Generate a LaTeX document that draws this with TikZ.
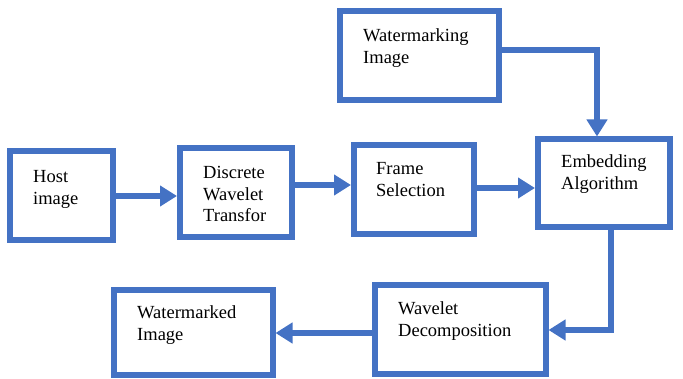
\documentclass[tikz,border=0pt]{standalone}
\usepackage{fontspec}
\setmainfont{Liberation Serif}
\usetikzlibrary{arrows.meta}
\definecolor{boxblue}{HTML}{4472C4}
\newcommand\mylines[1]{\begin{tabular}[t]{@{}l@{}}#1\end{tabular}}
\begin{document}
\begin{tikzpicture}[x=1pt,y=-1pt,
  box/.style={draw=boxblue, line width=6pt, inner sep=0pt, fill=white},
  lbl/.style={anchor=base west, inner sep=0pt, font=\fontsize{18.5}{21.5}\selectfont},
  arr/.style={draw=boxblue, line width=6pt, line join=miter, -{Triangle[length=17pt,width=20pt]}}]
\useasboundingbox (0,0) rectangle (683,379);
% boxes
\node[box, minimum width=159pt, minimum height=89pt] (wm) at (419.5,55.5) {};
\node[box, minimum width=103pt, minimum height=89pt] (host) at (61.5,195.5) {};
\node[box, minimum width=112pt, minimum height=89pt] (dwt) at (236,192.5) {};
\node[box, minimum width=120pt, minimum height=89pt] (frame) at (414,189.5) {};
\node[box, minimum width=132pt, minimum height=87.5pt] (embed) at (604,183.25) {};
\node[box, minimum width=170.5pt, minimum height=88.5pt] (wd) at (460.25,329.75) {};
\node[box, minimum width=158.5pt, minimum height=85pt] (wmd) at (193.25,332.5) {};
% labels
\node[lbl] (wmT) at (363,42) {\mylines{Watermarking\\Image}};
\node[lbl] (hostT) at (33,183) {\mylines{Host\\image}};
\node[lbl] (dwtT) at (203,179) {\mylines{Discrete\\Wavelet\\Transfor}};
\node[lbl] (frameT) at (376,175) {\mylines{Frame\\Selection}};
\node[lbl] (embedT) at (561,168) {\mylines{Embedding\\Algorithm}};
\node[lbl] (wdT) at (398,315) {\mylines{Wavelet\\Decomposition}};
\node[lbl] (wmdT) at (137,319) {\mylines{Watermarked\\Image}};
% levels of the connectors
\coordinate (yA) at (0,196);
\coordinate (yB) at (0,185);
\coordinate (yC) at (0,188);
\coordinate (yD) at (0,50);
\coordinate (xD) at (597,0);
\coordinate (xE) at (611,0);
\coordinate (yE) at (0,330);
\coordinate (yF) at (0,333);
% connectors
\draw[arr] (host.east |- yA) -- (dwt.west |- yA);
\draw[arr] (dwt.east |- yB) -- (frame.west |- yB);
\draw[arr] (frame.east |- yC) -- (embed.west |- yC);
\draw[arr] (wm.east |- yD) -| (embed.north -| xD);
\draw[arr] (embed.south -| xE) |- (wd.east |- yE);
\draw[arr] (wd.west |- yF) -- (wmd.east |- yF);
\end{tikzpicture}
\end{document}
